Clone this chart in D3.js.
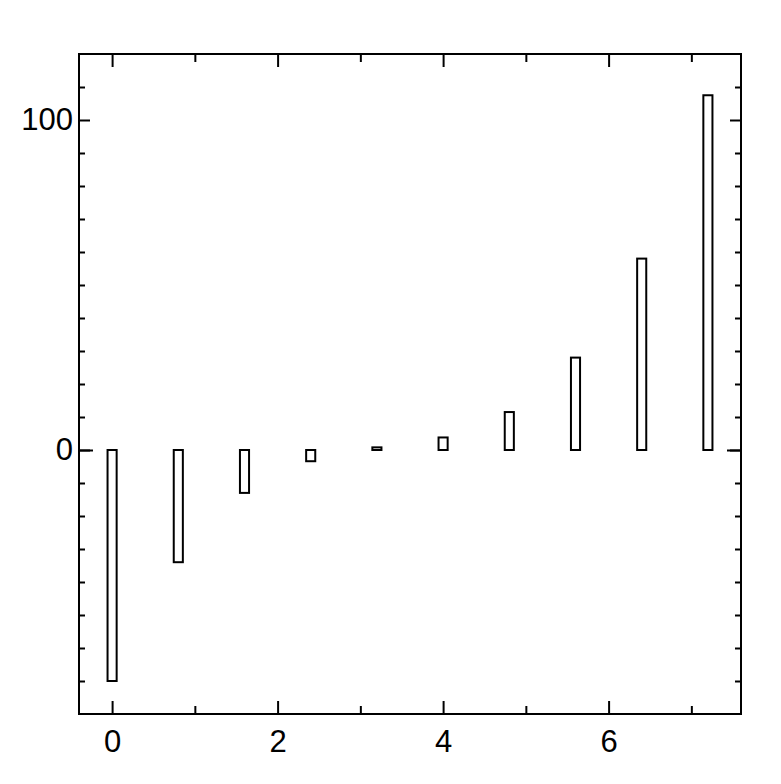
<!DOCTYPE html>
<html><head><meta charset="utf-8">
<script src="https://cdn.jsdelivr.net/npm/d3@7"></script>
<style>body{margin:0;background:#fff}svg{display:block}</style>
</head><body>
<script>
const xValues = [0, 0.8, 1.6, 2.4, 3.2, 4.0, 4.8, 5.6, 6.4, 7.2];
const yValues = [-70, -34, -13, -3.4, 0.8, 3.8, 11.5, 28, 58, 107.5];
const xMajorTicks = [0, 2, 4, 6];
const xMinorTicks = [1, 3, 5, 7];
const yMajorTicks = [0, 100];
const yMinorTicks = [-70, -60, -50, -40, -30, -20, -10, 10, 20, 30, 40, 50, 60, 70, 80, 90, 110];

const W = 781, H = 784;
const L = 79, R = 741, T = 54, B = 714;
const svg = d3.select("body").append("svg").attr("width", W).attr("height", H);
const x = d3.scaleLinear().domain([-0.4, 7.6]).range([L, R]);
const y = d3.scaleLinear().domain([-80, 120]).range([B, T]);
const barW = 0.11;

svg.append("g").selectAll("rect").data(xValues).join("rect")
  .attr("x", (d) => x(d - barW / 2))
  .attr("width", (d) => x(barW) - x(0))
  .attr("y", (d, i) => y(Math.max(0, yValues[i])))
  .attr("height", (d, i) => Math.abs(y(yValues[i]) - y(0)))
  .attr("fill", "none").attr("stroke", "#000").attr("stroke-width", 2);

const font = "'Liberation Sans', Arial, sans-serif";
const axB = svg.append("g").attr("transform", `translate(0,${B})`)
  .call(d3.axisBottom(x).tickValues(xMajorTicks).tickSize(-13).tickPadding(16).tickFormat(d3.format("d")));
svg.append("g").attr("transform", `translate(0,${B})`)
  .call(d3.axisBottom(x).tickValues(xMinorTicks).tickSize(-8).tickFormat(""));
svg.append("g").attr("transform", `translate(0,${T})`)
  .call(d3.axisTop(x).tickValues(xMajorTicks).tickSize(-13).tickFormat(""));
svg.append("g").attr("transform", `translate(0,${T})`)
  .call(d3.axisTop(x).tickValues(xMinorTicks).tickSize(-8).tickFormat(""));
svg.append("g").attr("transform", `translate(${L},0)`)
  .call(d3.axisLeft(y).tickValues(yMajorTicks).tickSize(-11).tickPadding(6).tickFormat(d3.format("d")));
svg.append("g").attr("transform", `translate(${L},0)`)
  .call(d3.axisLeft(y).tickValues([0]).tickSize(-14).tickFormat(""));
svg.append("g").attr("transform", `translate(${L},0)`)
  .call(d3.axisLeft(y).tickValues(yMinorTicks).tickSize(-6).tickFormat(""));
svg.append("g").attr("transform", `translate(${R},0)`)
  .call(d3.axisRight(y).tickValues(yMajorTicks).tickSize(-11).tickFormat(""));
svg.append("g").attr("transform", `translate(${R},0)`)
  .call(d3.axisRight(y).tickValues([0]).tickSize(-14).tickFormat(""));
svg.append("g").attr("transform", `translate(${R},0)`)
  .call(d3.axisRight(y).tickValues(yMinorTicks).tickSize(-6).tickFormat(""));

svg.selectAll(".domain").remove();
svg.selectAll(".tick line").attr("stroke", "#000").attr("stroke-width", 2);
svg.selectAll(".tick text").attr("font-family", font).attr("font-size", 31).attr("fill", "#000");
axB.selectAll(".tick text").attr("dy", "0.71em");

svg.append("rect").attr("x", L).attr("y", T).attr("width", R - L).attr("height", B - T)
  .attr("fill", "none").attr("stroke", "#000").attr("stroke-width", 2);
</script>
</body></html>
